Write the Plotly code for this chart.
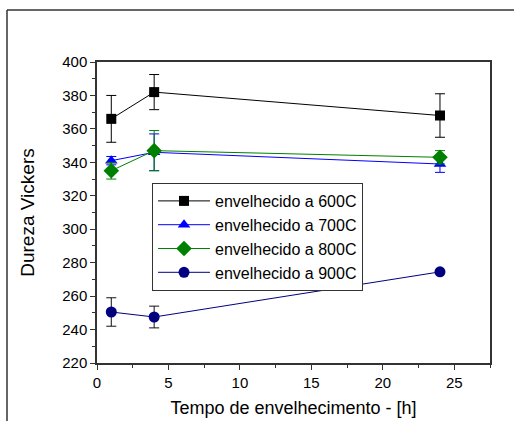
import plotly.graph_objects as go

hours = [1, 4, 24]

series_names = ["envelhecido a 600C", "envelhecido a 700C", "envelhecido a 800C", "envelhecido a 900C"]
hv_600 = [366, 382, 368]
err_600 = [14, 10.5, 13]
hv_700 = [341, 346, 339]
err_700 = [2.5, 11, 5]
hv_800 = [335, 347, 343]
err_800 = [5, 12, 4]
hv_900 = [250.5, 247.5, 274.5]
err_900 = [8.5, 6.5, 0]

x_ticks = [0, 5, 10, 15, 20, 25]
y_ticks = [220, 240, 260, 280, 300, 320, 340, 360, 380, 400]

styles = [
    dict(color="#000000", symbol="square", size=10, ecolor="#000000"),
    dict(color="#0000FF", symbol="triangle-up", size=11, ecolor="#0000FF"),
    dict(color="#008000", symbol="diamond", size=12, ecolor="#008000"),
    dict(color="#000080", symbol="circle", size=11, ecolor="#111111"),
]
values = [hv_600, hv_700, hv_800, hv_900]
errors = [err_600, err_700, err_800, err_900]

FONT = "Arial, Liberation Sans, sans-serif"

fig = go.Figure()
for name, v, e, s in zip(series_names, values, errors, styles):
    fig.add_trace(go.Scatter(
        x=hours, y=v, name=name, mode="lines+markers",
        line=dict(color=s["color"], width=1),
        marker=dict(symbol=s["symbol"], size=s["size"], color=s["color"], line=dict(width=0)),
        error_y=dict(type="data", array=e, visible=True, color=s["ecolor"], thickness=1, width=5),
    ))

axis_common = dict(
    showline=True, linecolor="#333333", linewidth=1.5, mirror=True,
    ticks="outside", ticklen=5, tickwidth=1.2, tickcolor="#333333",
    showgrid=False, zeroline=False,
    tickfont=dict(family=FONT, size=15, color="#000000"),
)

fig.update_xaxes(
    range=[0, 27.5], tickvals=x_ticks,
    minor=dict(dtick=2.5, ticks="outside", ticklen=3, tickwidth=1, tickcolor="#333333", showgrid=False),
    title=dict(text="Tempo de envelhecimento - [h]", font=dict(family=FONT, size=18, color="#000000"), standoff=12),
    **axis_common,
)
fig.update_yaxes(
    range=[220, 400], tickvals=y_ticks,
    minor=dict(dtick=10, ticks="outside", ticklen=3, tickwidth=1, tickcolor="#333333", showgrid=False),
    title=dict(text="Dureza Vickers", font=dict(family=FONT, size=19, color="#000000"), standoff=23),
    **axis_common,
)

fig.update_layout(
    width=514, height=421,
    margin=dict(l=97, r=24, t=62, b=58, autoexpand=False),
    paper_bgcolor="white", plot_bgcolor="white",
    showlegend=True,
    legend=dict(
        x=0.14, y=0.598, xanchor="left", yanchor="top",
        bgcolor="white", bordercolor="#333333", borderwidth=1,
        font=dict(family=FONT, size=16, color="#000000"),
        tracegroupgap=0, itemsizing="trace", itemwidth=52,
    ),
)

# outer frame lines (decorative)
fig.add_shape(type="line", xref="paper", yref="paper",
              x0=(7 - 97) / 393, x1=(514 - 97) / 393, y0=(363 - 10) / 301, y1=(363 - 10) / 301,
              line=dict(color="#333333", width=1.5))
fig.add_shape(type="line", xref="paper", yref="paper",
              x0=(7 - 97) / 393, x1=(7 - 97) / 393, y0=(363 - 10) / 301, y1=(363 - 421) / 301,
              line=dict(color="#333333", width=1.5))

fig.write_html("out.html", config={"displayModeBar": False},
               post_script="document.body.style.margin='0px';document.body.style.overflow='hidden';")
